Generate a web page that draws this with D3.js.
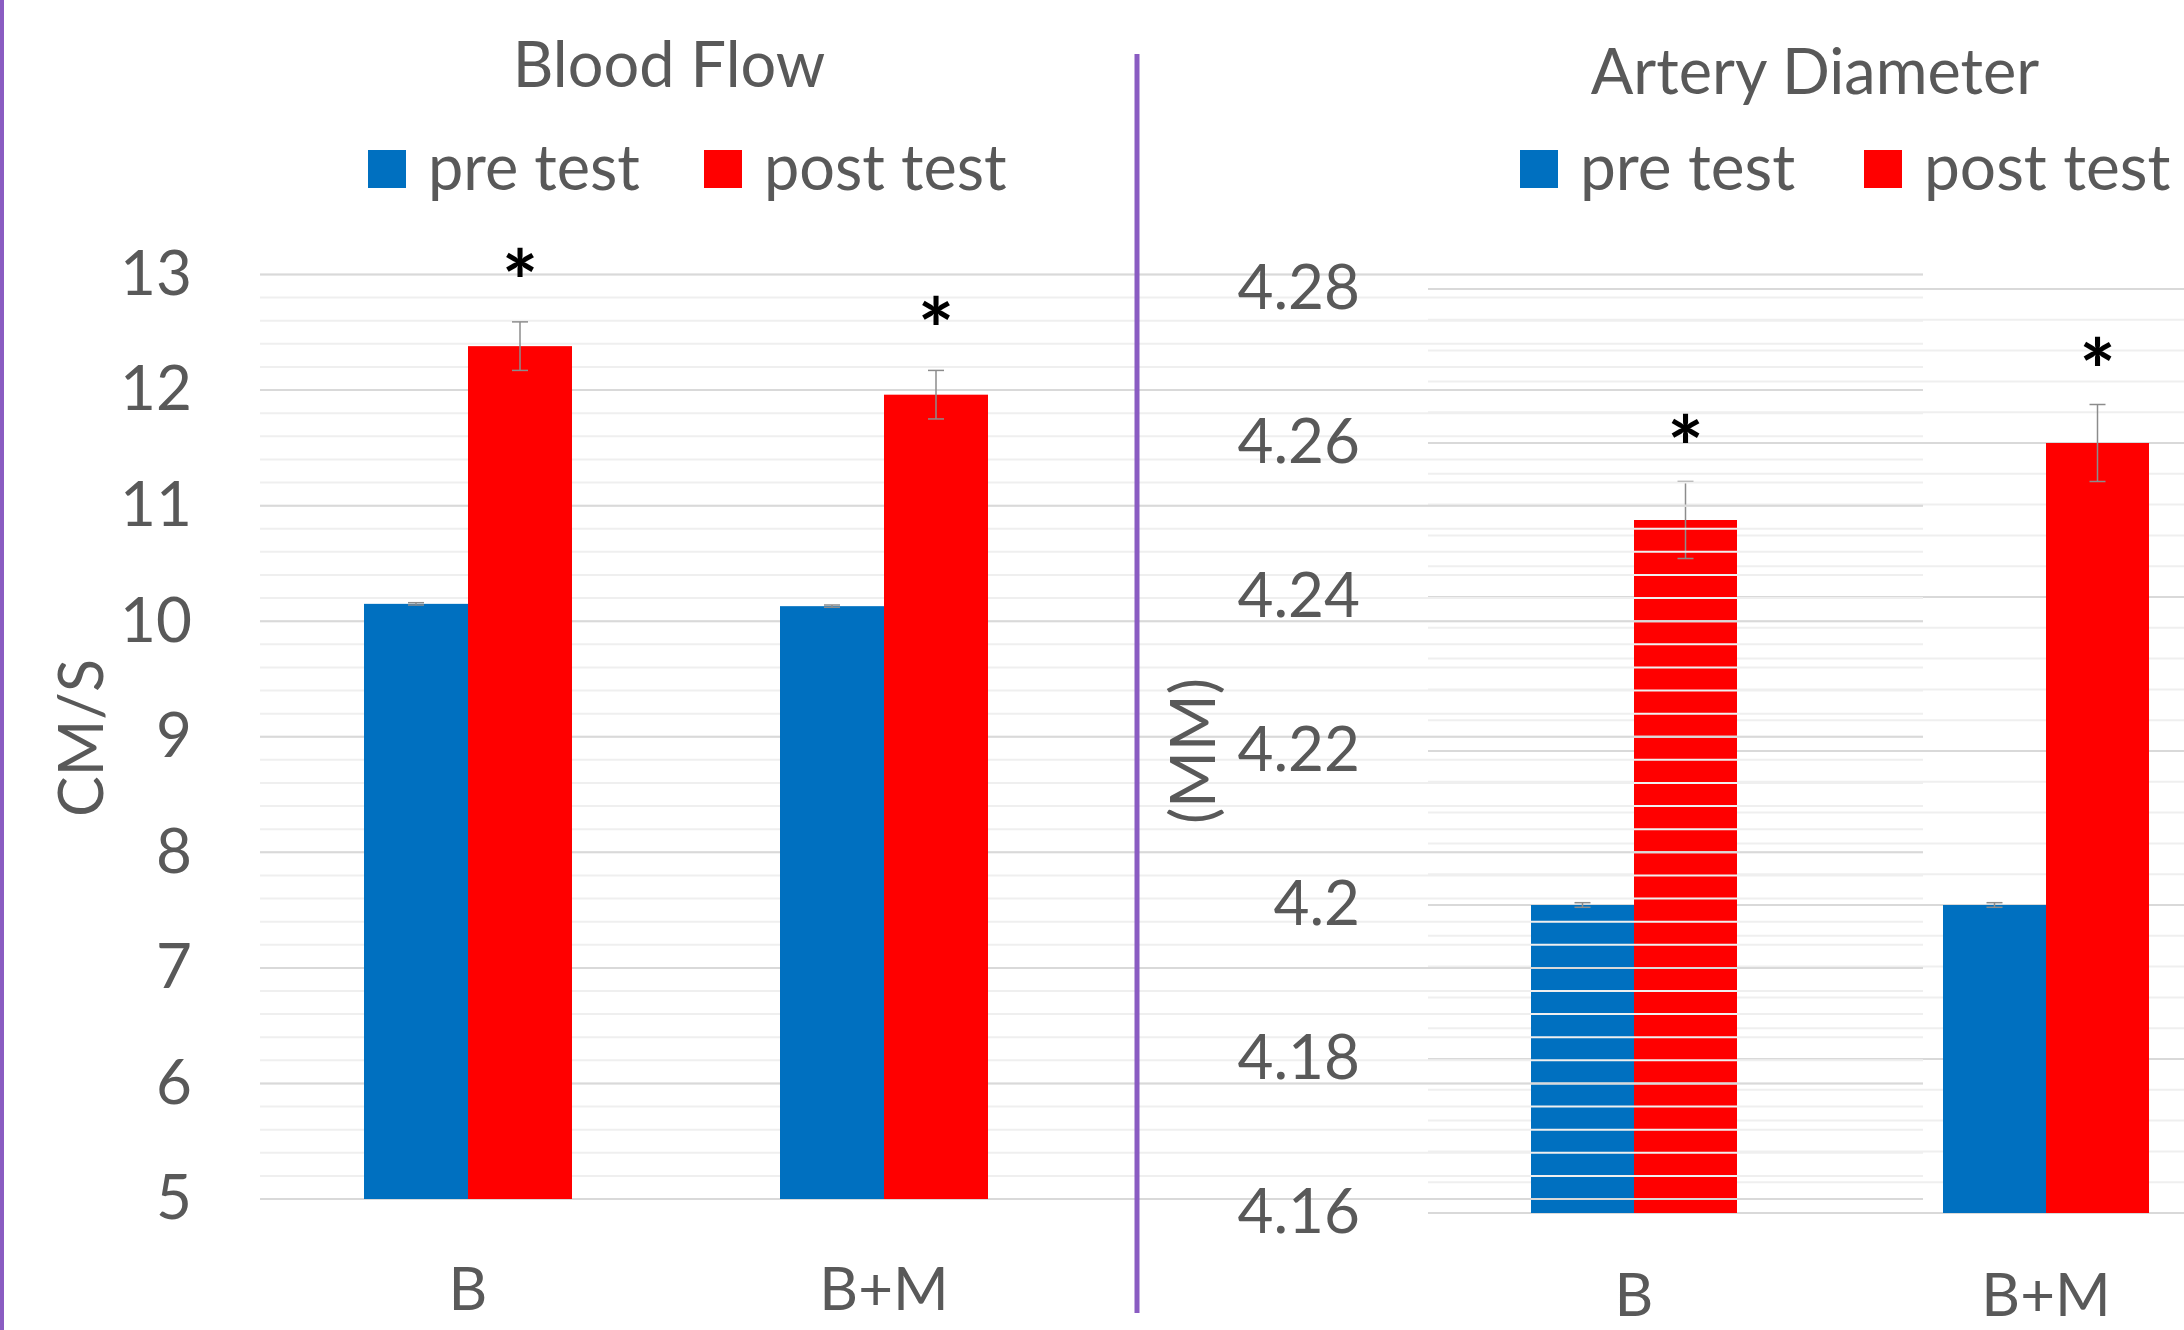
<!DOCTYPE html>
<html>
<head>
<meta charset="utf-8">
<script src="https://cdnjs.cloudflare.com/ajax/libs/d3/7.8.5/d3.min.js"></script>
<style>
  body { margin: 0; background: #fff; }
  svg text { font-family: Lato, "Open Sans", sans-serif; fill: #595959; }
</style>
</head>
<body>
<div id="plot"></div>
<script>
var categories = ["B", "B+M"];
var series = ["pre test", "post test"];
var colors = ["#0070c0", "#ff0000"];

// blood flow (cm/s)
var flowPre = [10.15, 10.13];
var flowPost = [12.38, 11.96];
var flowPreErr = [0.01, 0.01];
var flowPostErr = [0.21, 0.21];
var flowTicks = [5, 6, 7, 8, 9, 10, 11, 12, 13];
var flowTickLabels = ["5", "6", "7", "8", "9", "10", "11", "12", "13"];

// artery diameter (mm)
var diamPre = [4.20, 4.20];
var diamPost = [4.25, 4.26];
var diamPreErr = [0.0003, 0.0003];
var diamPostErr = [0.005, 0.005];
var diamTicks = [4.16, 4.18, 4.2, 4.22, 4.24, 4.26, 4.28];
var diamTickLabels = ["4.16", "4.18", "4.2", "4.22", "4.24", "4.26", "4.28"];

var svg = d3.select("#plot").append("svg")
	.attr("width", 2184)
	.attr("height", 1330);

// layer order matters: the left chart's grid runs over the right chart's first group
var layers = {};
["rightGrid", "rightBars", "leftGrid", "leftBars", "labels", "frame"].forEach(function(n){
	layers[n] = svg.append("g").attr("class", n);
});

function drawChart(c){
	var x0 = d3.scaleBand().domain(categories).range(c.xRange).paddingInner(0.5).paddingOuter(0.25);
	var x1 = d3.scaleBand().domain(series).range([0, x0.bandwidth()]);
	var y = d3.scaleLinear().domain(c.yDomain).range(c.yRange);

	c.grid.selectAll("line.minor").data(c.minor).enter().append("line")
		.attr("x1", c.gridX[0]).attr("x2", c.gridX[1])
		.attr("y1", function(d){ return y(d); })
		.attr("y2", function(d){ return y(d); })
		.style("stroke", "#efefef")
		.style("stroke-width", 2);

	c.grid.selectAll("line.major").data(c.ticks).enter().append("line")
		.attr("x1", c.gridX[0]).attr("x2", c.gridX[1])
		.attr("y1", function(d){ return y(d); })
		.attr("y2", function(d){ return y(d); })
		.style("stroke", "#d9d9d9")
		.style("stroke-width", 2);

	var rows = categories.map(function(cat, i){
		return {cat: cat, vals: [
			{s: series[0], v: c.pre[i], e: c.preErr[i]},
			{s: series[1], v: c.post[i], e: c.postErr[i]}
		]};
	});

	var group = c.bars.selectAll("g.grp").data(rows).enter().append("g")
		.attr("transform", function(d){ return "translate(" + x0(d.cat) + ",0)"; });

	group.selectAll("rect").data(function(d){ return d.vals; }).enter().append("rect")
		.attr("x", function(d){ return x1(d.s); })
		.attr("y", function(d){ return y(d.v); })
		.attr("width", x1.bandwidth())
		.attr("height", function(d){ return y(c.yDomain[0]) - y(d.v); })
		.style("fill", function(d, i){ return colors[i]; });

	// error bars
	var err = group.selectAll("g.err").data(function(d){ return d.vals; }).enter().append("g")
		.attr("transform", function(d){ return "translate(" + (x1(d.s) + x1.bandwidth() / 2) + ",0)"; })
		.style("stroke", "#8c8c8c")
		.style("stroke-width", 1.5);
	err.append("line")
		.attr("x1", 0).attr("x2", 0)
		.attr("y1", function(d){ return y(d.v + d.e); })
		.attr("y2", function(d){ return y(d.v - d.e); });
	err.append("line")
		.attr("x1", -8).attr("x2", 8)
		.attr("y1", function(d){ return y(d.v + d.e); })
		.attr("y2", function(d){ return y(d.v + d.e); });
	err.append("line")
		.attr("x1", -8).attr("x2", 8)
		.attr("y1", function(d){ return y(d.v - d.e); })
		.attr("y2", function(d){ return y(d.v - d.e); });

	// significance stars above the post test bars
	c.labels.selectAll("text.star" + c.key).data(rows).enter().append("text")
		.attr("x", function(d){ return x0(d.cat) + x1(series[1]) + x1.bandwidth() / 2; })
		.attr("y", function(d){ return y(d.vals[1].v + d.vals[1].e) - c.starGap; })
		.attr("text-anchor", "middle")
		.style("font-size", "86px")
		.style("font-weight", "bold")
		.style("fill", "#000")
		.text("*");

	// y tick labels
	c.labels.append("g")
		.attr("transform", "translate(" + c.xRange[0] + ",0)")
		.call(d3.axisLeft(y).tickValues(c.ticks).tickSize(0).tickPadding(68)
			.tickFormat(function(d, i){ return c.tickLabels[i]; }))
		.call(function(g){ g.select(".domain").remove(); })
		.selectAll("text")
		.style("font-size", "62px");

	// category labels
	c.labels.selectAll("text.cat" + c.key).data(categories).enter().append("text")
		.attr("x", function(d){ return x0(d) + x0.bandwidth() / 2; })
		.attr("y", c.catY)
		.attr("text-anchor", "middle")
		.style("font-size", "60px")
		.text(function(d){ return d; });

	c.labels.append("text")
		.attr("x", c.titleX).attr("y", c.titleY)
		.attr("text-anchor", "middle")
		.style("font-size", "63px")
		.text(c.title);

	c.labels.append("text")
		.attr("transform", "translate(" + c.axisTitleX + "," + c.axisTitleY + ") rotate(-90)")
		.attr("text-anchor", "middle")
		.attr("dy", "0.36em")
		.style("font-size", "61px")
		.text(c.axisTitle);

	// legend
	var leg = c.labels.selectAll("g.leg" + c.key).data(series).enter().append("g")
		.attr("transform", function(d, i){ return "translate(" + c.legendX[i] + ",150)"; });
	leg.append("rect")
		.attr("width", 38).attr("height", 38)
		.style("fill", function(d, i){ return colors[i]; });
	leg.append("text")
		.attr("x", 60).attr("y", 40)
		.style("font-size", c.legendSize + "px")
		.text(function(d){ return d; });
}

drawChart({
	key: "L", pre: flowPre, post: flowPost, preErr: flowPreErr, postErr: flowPostErr,
	yDomain: [5, 13], yRange: [1199, 274.5], xRange: [260, 1092], gridX: [260, 1923],
	ticks: flowTicks, tickLabels: flowTickLabels, minor: d3.scaleLinear().domain([5, 13]).ticks(40),
	grid: layers.leftGrid, bars: layers.leftBars, labels: layers.labels,
	starGap: 9, catY: 1310, title: "Blood Flow", titleX: 669, titleY: 87,
	axisTitle: "CM/S", axisTitleX: 81, axisTitleY: 738, legendX: [368, 704], legendSize: 63
});

drawChart({
	key: "R", pre: diamPre, post: diamPost, preErr: diamPreErr, postErr: diamPostErr,
	yDomain: [4.16, 4.28], yRange: [1213, 289], xRange: [1428, 2252], gridX: [1428, 2252],
	ticks: diamTicks, tickLabels: diamTickLabels, minor: d3.range(31).map(function(i){ return 4.16 + i * 0.004; }),
	grid: layers.rightGrid, bars: layers.rightBars, labels: layers.labels,
	starGap: 3, catY: 1316, title: "Artery Diameter", titleX: 1815, titleY: 94,
	axisTitle: "(MM)", axisTitleX: 1193, axisTitleY: 751, legendX: [1520, 1864], legendSize: 64
});

// purple slide rules
layers.frame.append("line")
	.attr("x1", 2).attr("x2", 2).attr("y1", 0).attr("y2", 1330)
	.style("stroke", "#8a5cc2").style("stroke-width", 4);
layers.frame.append("line")
	.attr("x1", 1137).attr("x2", 1137).attr("y1", 54).attr("y2", 1313)
	.style("stroke", "#8a5cc2").style("stroke-width", 5);
</script>
</body>
</html>
